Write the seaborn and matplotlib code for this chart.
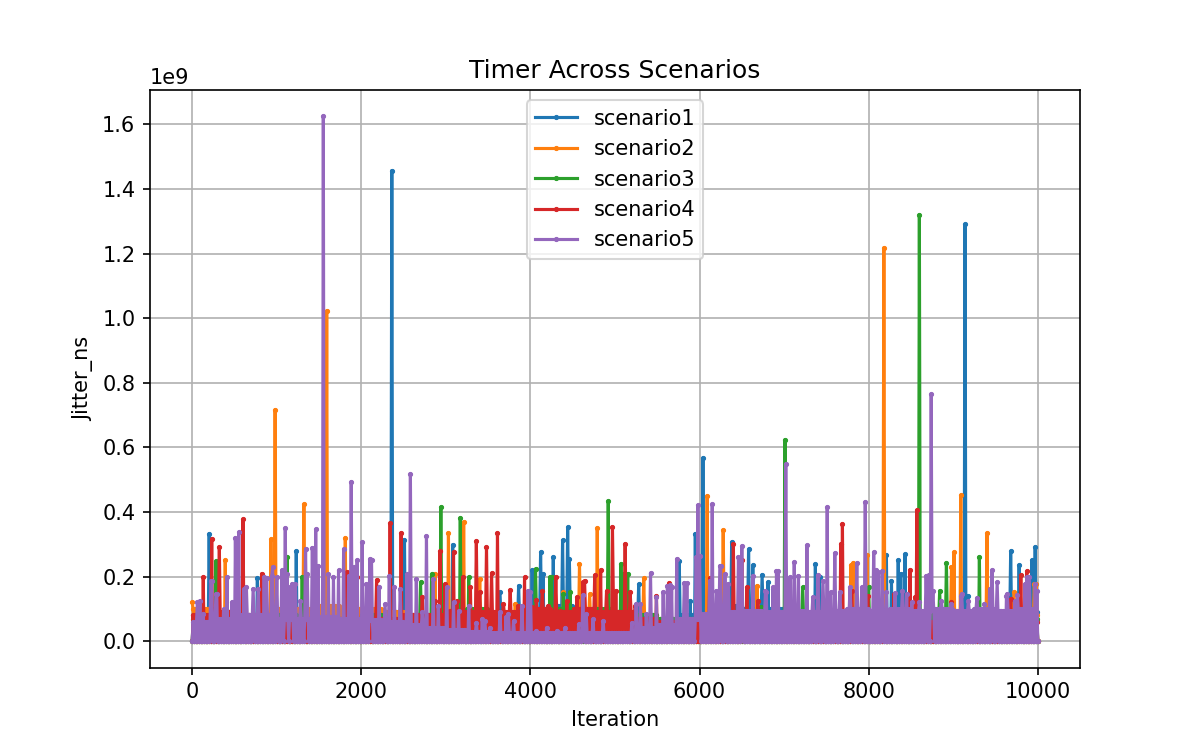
import numpy as np
import pandas as pd
import seaborn as sns
import matplotlib.pyplot as plt

# nombres y colores de los escenarios
scenarios = ["scenario1", "scenario2", "scenario3", "scenario4", "scenario5"]
colors = ["#1f77b4", "#ff7f0e", "#2ca02c", "#d62728", "#9467bd"]

# Valores en unidades de 1e9 ns
# band = nivel superior de la banda densa de ruido, cada 250 iteraciones (0..10000)
band_step = 250
s1_band = [0.08, 0.09, 0.08, 0.07, 0.08, 0.08, 0.07, 0.08, 0.08, 0.09, 0.08, 0.08, 0.07, 0.08,
           0.08, 0.08, 0.10, 0.11, 0.10, 0.08, 0.07, 0.08, 0.07, 0.08, 0.10, 0.11, 0.10, 0.10,
           0.08, 0.08, 0.08, 0.07, 0.08, 0.09, 0.09, 0.08, 0.08, 0.08, 0.09, 0.09, 0.09]
s2_band = [0.10, 0.09, 0.08, 0.08, 0.10, 0.10, 0.11, 0.10, 0.10, 0.09, 0.08, 0.07, 0.07, 0.07,
           0.08, 0.07, 0.07, 0.08, 0.07, 0.08, 0.07, 0.07, 0.07, 0.07, 0.08, 0.09, 0.08, 0.07,
           0.07, 0.07, 0.08, 0.08, 0.09, 0.08, 0.08, 0.09, 0.08, 0.09, 0.08, 0.08, 0.09]
s3_band = [0.07, 0.08, 0.07, 0.07, 0.08, 0.07, 0.07, 0.07, 0.08, 0.07, 0.07, 0.08, 0.09, 0.10,
           0.08, 0.08, 0.09, 0.10, 0.09, 0.10, 0.09, 0.08, 0.07, 0.07, 0.07, 0.07, 0.07, 0.07,
           0.08, 0.07, 0.07, 0.07, 0.07, 0.07, 0.07, 0.08, 0.09, 0.09, 0.08, 0.07, 0.07]
s4_band = [0.08, 0.09, 0.08, 0.07, 0.07, 0.07, 0.07, 0.07, 0.07, 0.07, 0.08, 0.08, 0.09, 0.09,
           0.09, 0.09, 0.10, 0.09, 0.10, 0.09, 0.09, 0.07, 0.06, 0.06, 0.06, 0.06, 0.06, 0.06,
           0.06, 0.06, 0.06, 0.06, 0.06, 0.06, 0.06, 0.06, 0.06, 0.06, 0.06, 0.06, 0.06]
s5_band = [0.06, 0.07, 0.08, 0.08, 0.07, 0.07, 0.075, 0.07, 0.065, 0.06, 0.05, 0.04, 0.035,
           0.03, 0.025, 0.025, 0.025, 0.025, 0.025, 0.025, 0.025, 0.04, 0.05, 0.07, 0.085, 0.09,
           0.095, 0.09, 0.095, 0.09, 0.095, 0.1, 0.095, 0.1, 0.095, 0.1, 0.095, 0.1, 0.095,
           0.1, 0.09]

# picos (iteracion, valor)
s1_spikes = [(205, 0.333), (770, 0.195), (1233, 0.279), (2360, 1.457), (2510, 0.314),
             (3081, 0.299), (3641, 0.151), (3858, 0.172), (4015, 0.219), (4117, 0.276),
             (4153, 0.208), (4271, 0.26), (4377, 0.312), (4444, 0.353), (4460, 0.255),
             (5275, 0.176), (5757, 0.247), (5887, 0.125), (5954, 0.333), (6044, 0.568),
             (6379, 0.307), (6576, 0.284), (6628, 0.235), (6738, 0.206), (6812, 0.183),
             (6872, 0.161), (7368, 0.238), (7415, 0.2), (8207, 0.268), (8270, 0.187),
             (8349, 0.25), (8380, 0.208), (8432, 0.269), (9137, 1.29), (9168, 0.141),
             (9684, 0.279), (9779, 0.235), (9933, 0.25), (9968, 0.291)]
s2_spikes = [(0, 0.12), (386, 0.25), (930, 0.315), (981, 0.717), (1316, 0.424), (1592, 1.023),
             (1808, 0.32), (2873, 0.208), (3030, 0.335), (3207, 0.369), (3405, 0.193),
             (3818, 0.115), (4390, 0.151), (4578, 0.24), (4705, 0.146), (4787, 0.35),
             (5343, 0.195), (6087, 0.449), (6280, 0.343), (6675, 0.172), (7790, 0.235),
             (7817, 0.242), (7975, 0.266), (8176, 1.218), (8979, 0.229), (9011, 0.276),
             (9094, 0.452), (9397, 0.335), (9720, 0.151), (9964, 0.177), (9980, 0.178)]
s3_spikes = [(280, 0.247), (1119, 0.26), (1300, 0.2), (2703, 0.182), (2833, 0.208),
             (2943, 0.415), (3172, 0.382), (3267, 0.198), (4058, 0.224), (4232, 0.198),
             (4250, 0.2), (4390, 0.146), (4468, 0.151), (4921, 0.433), (5074, 0.24),
             (5100, 0.209), (5146, 0.208), (6734, 0.105), (7013, 0.624), (7218, 0.167),
             (8002, 0.167), (8597, 1.32), (8841, 0.156), (8921, 0.242), (9306, 0.26)]
s4_spikes = [(134, 0.198), (233, 0.317), (323, 0.291), (599, 0.377), (824, 0.209),
             (1829, 0.214), (1950, 0.2), (2183, 0.19), (2340, 0.366), (2470, 0.336),
             (2715, 0.136), (2873, 0.125), (2931, 0.279), (2991, 0.177), (3050, 0.094),
             (3089, 0.276), (3128, 0.125), (3200, 0.198), (3286, 0.167), (3357, 0.31),
             (3405, 0.151), (3475, 0.291), (3542, 0.211), (3609, 0.335), (3680, 0.115),
             (3759, 0.159), (3846, 0.11), (3928, 0.198), (4015, 0.105), (4074, 0.127),
             (4145, 0.156), (4212, 0.11), (4303, 0.2), (4350, 0.094), (4429, 0.125),
             (4547, 0.136), (4618, 0.182), (4645, 0.188), (4764, 0.204), (4826, 0.221),
             (4902, 0.156), (4968, 0.353), (4980, 0.146), (5012, 0.156), (5118, 0.302),
             (5177, 0.151), (5236, 0.11), (5493, 0.14), (5642, 0.18), (6120, 0.196),
             (6399, 0.302), (6505, 0.25), (6556, 0.167), (6694, 0.125), (7670, 0.302),
             (7687, 0.364), (7797, 0.156), (7994, 0.141), (8301, 0.146), (8491, 0.222),
             (8553, 0.136), (8574, 0.405), (8979, 0.12), (9680, 0.13), (9800, 0.204),
             (9866, 0.217)]
s5_spikes = [(63, 0.12), (90, 0.126), (134, 0.084), (220, 0.188), (232, 0.188), (280, 0.147),
             (292, 0.146), (370, 0.1), (410, 0.198), (469, 0.12), (508, 0.32), (548, 0.338),
             (607, 0.162), (640, 0.167), (720, 0.162), (784, 0.162), (850, 0.198), (875, 0.196),
             (942, 0.203), (950, 0.23), (1000, 0.198), (1060, 0.219), (1103, 0.35),
             (1120, 0.209), (1158, 0.167), (1180, 0.178), (1217, 0.177), (1276, 0.125),
             (1340, 0.286), (1360, 0.209), (1418, 0.29), (1458, 0.346), (1493, 0.234),
             (1552, 1.625), (1611, 0.208), (1670, 0.198), (1730, 0.219), (1789, 0.286),
             (1848, 0.203), (1883, 0.494), (1907, 0.229), (1946, 0.25), (2013, 0.307),
             (2065, 0.177), (2104, 0.255), (2124, 0.252), (2210, 0.167), (2281, 0.115),
             (2332, 0.203), (2388, 0.167), (2459, 0.162), (2538, 0.208), (2577, 0.518),
             (2648, 0.193), (2715, 0.089), (2766, 0.326), (2853, 0.193), (2912, 0.11),
             (3011, 0.167), (3089, 0.12), (3148, 0.094), (3267, 0.11), (3365, 0.058),
             (3430, 0.07), (3464, 0.063), (3515, 0.042), (3641, 0.092), (3712, 0.074),
             (3740, 0.085), (3799, 0.063), (3897, 0.11), (3970, 0.157), (4003, 0.151),
             (4074, 0.032), (4192, 0.042), (4311, 0.032), (4409, 0.042), (4567, 0.053),
             (4620, 0.142), (4665, 0.084), (4744, 0.068), (4862, 0.063), (5106, 0.027),
             (5197, 0.058), (5250, 0.116), (5296, 0.115), (5366, 0.084), (5418, 0.211),
             (5493, 0.136), (5571, 0.151), (5619, 0.172), (5650, 0.173), (5670, 0.167),
             (5729, 0.255), (5820, 0.181), (5847, 0.179), (5957, 0.26), (5981, 0.421),
             (6005, 0.265), (6123, 0.188), (6150, 0.424), (6202, 0.156), (6241, 0.234),
             (6253, 0.232), (6300, 0.208), (6340, 0.177), (6458, 0.26), (6505, 0.295),
             (6627, 0.203), (6780, 0.157), (6793, 0.151), (6872, 0.167), (6910, 0.217),
             (6930, 0.216), (7025, 0.549), (7069, 0.198), (7119, 0.245), (7167, 0.203),
             (7273, 0.297), (7344, 0.136), (7400, 0.204), (7460, 0.188), (7514, 0.415),
             (7553, 0.151), (7604, 0.273), (7659, 0.151), (7778, 0.167), (7861, 0.242),
             (7915, 0.167), (7959, 0.431), (8065, 0.276), (8090, 0.219), (8112, 0.213),
             (8159, 0.217), (8211, 0.151), (8309, 0.148), (8396, 0.156), (8447, 0.146),
             (8506, 0.12), (8604, 0.12), (8683, 0.203), (8710, 0.206), (8735, 0.764),
             (8762, 0.156), (8861, 0.125), (8979, 0.115), (9089, 0.141), (9100, 0.147),
             (9184, 0.125), (9275, 0.134), (9373, 0.115), (9430, 0.162), (9460, 0.219),
             (9520, 0.183), (9629, 0.141), (9640, 0.147), (9728, 0.125), (9760, 0.142),
             (9846, 0.177), (9870, 0.198), (9905, 0.198), (9972, 0.177), (9990, 0.157)]

bands = [s1_band, s2_band, s3_band, s4_band, s5_band]
spikes = [s1_spikes, s2_spikes, s3_spikes, s4_spikes, s5_spikes]


def construir_serie(band, picos, step=10):
    iters = np.arange(0, 10001, step)
    nivel = np.array(band)[iters // band_step]
    vals = np.zeros(len(iters))
    vals[1::2] = nivel[1::2]
    for it, v in picos:
        vals[int(round(it / step))] = v
    return pd.DataFrame({"Iteration": iters, "Jitter_ns": vals * 1e9})


fig, ax = plt.subplots(figsize=(8, 5), dpi=150)

for name, color, band, picos in zip(scenarios, colors, bands, spikes):
    df = construir_serie(band, picos)
    sns.lineplot(data=df, x="Iteration", y="Jitter_ns", ax=ax, label=name, color=color,
                 marker="o", markersize=2, markeredgecolor=color, markeredgewidth=0.5,
                 estimator=None, sort=False)

ax.set_title("Timer Across Scenarios")
ax.set_xlabel("Iteration")
ax.set_ylabel("Jitter_ns")
ax.grid(True)
ax.legend(loc="upper center")

plt.savefig("out.png", dpi=150)
